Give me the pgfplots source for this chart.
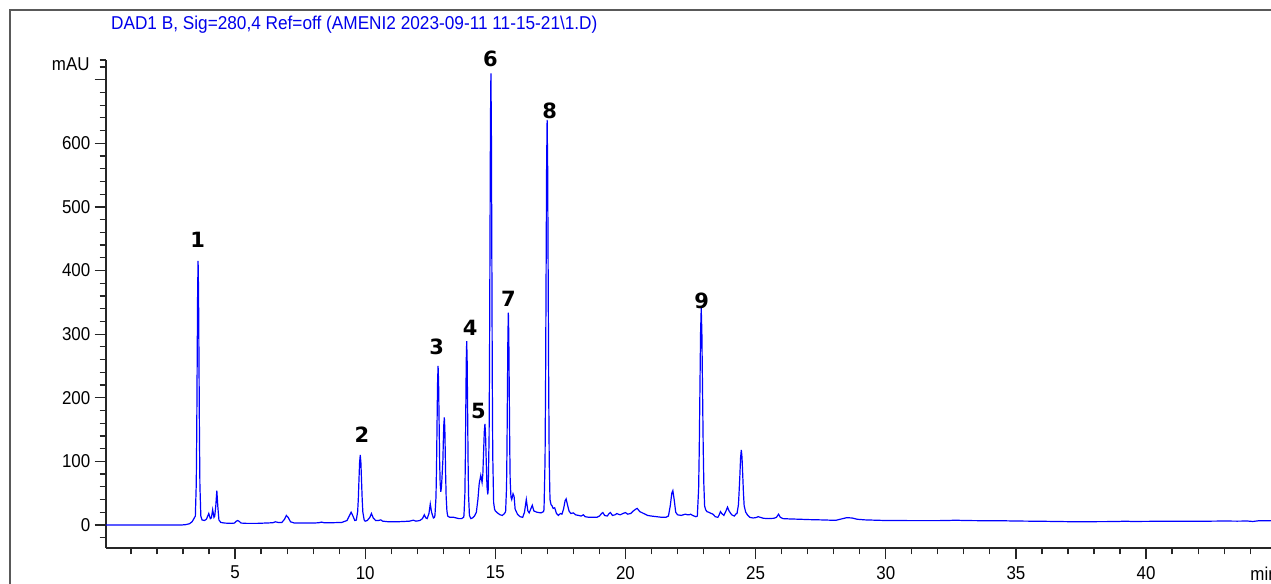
\documentclass[border=0pt]{standalone}
\usepackage{fontspec}
\usepackage{pgfplots}
\pgfplotsset{compat=1.18}
\setmainfont{Liberation Sans}
\newfontfamily\tickfont{Liberation Sans}[FakeStretch=0.91]
\newfontfamily\titlefont{Liberation Sans}[FakeStretch=0.926]
\newfontfamily\lblfont{DejaVu Sans}
\definecolor{trace}{RGB}{0,0,255}
\definecolor{ttl}{RGB}{0,0,235}
\begin{document}
\begin{tikzpicture}[x=1pt,y=1pt]
\path[use as bounding box] (0,0) rectangle (635.5,292);
\draw[line width=0.6pt, color=black!65] (5,-5) -- (5,287) -- (640,287);
\node[anchor=base west, inner sep=0pt, text=ttl, font=\titlefont\fontsize{9.3}{11}\selectfont] at (55.35,277.15) {DAD1 B, Sig=280,4 Ref=off (AMENI2 2023-09-11 11-15-21\textbackslash 1.D)};
\node[anchor=base east, inner sep=0pt, font=\tickfont\fontsize{9.3}{11}\selectfont] at (45,256.5) {mAU};
\node[anchor=base west, inner sep=0pt, font=\tickfont\fontsize{9.3}{11}\selectfont] at (625,1.8) {min};
\begin{axis}[
  at={(53pt,18pt)}, anchor=south west,
  scale only axis, width=582.5pt, height=244pt,
  xmin=0.042, xmax=44.8, ymin=-36.2, ymax=731,
  axis lines=left, axis line style={-, line width=0.6pt, black!85},
  tick align=outside, major tick length=5.7pt, minor tick length=3.2pt,
  tick style={line width=0.6pt, black!85},
  xtick={5,10,...,40}, minor xtick={1,2,...,44},
  ytick={0,100,...,600}, minor ytick={-20,0,...,720,731},
  extra y ticks={700}, extra y tick labels={},
  scaled ticks=false,
  /pgf/number format/assume math mode=true,
  ticklabel style={font=\tickfont\fontsize{9.3}{11}\selectfont, inner sep=0pt},
  xticklabel shift=3.15pt, yticklabel shift=1.95pt,
  clip=false,
]
\addplot[color=trace, line width=0.6pt, mark=none] coordinates {
(0.042,0) (2.95,0) (3.1,0.5) (3.25,2) (3.35,5) (3.42,10) (3.46,13)
(3.475,14) (3.51,65) (3.5275,142) (3.545,256) (3.5625,367) (3.58,415) (3.5975,367) (3.615,255) (3.6325,140) (3.65,62) (3.685,14)
(3.73,8) (3.82,7) (3.9,9) (3.99,18) (4.05,10) (4.09,11) (4.14,24) (4.19,12) (4.22,14) (4.26,30) (4.3,54) (4.34,28) (4.38,8) (4.45,4) (4.6,3) (4.85,2.5) (4.98,3) (5.05,6) (5.1,7) (5.15,6) (5.23,3) (5.45,2.5) (5.85,2.5) (6.15,3) (6.45,3.5) (6.55,5) (6.65,4) (6.8,4) (6.9,9) (6.97,15) (7.04,12) (7.13,5) (7.28,3) (7.6,3) (8.0,3) (8.22,3.5) (8.32,4.5) (8.42,3.5) (8.7,3.5) (9.1,4) (9.3,7) (9.4,15) (9.46,20) (9.53,14) (9.6,7) (9.65,7.5)
(9.66,8) (9.71,21) (9.735,40) (9.76,70) (9.785,98) (9.81,110) (9.835,98) (9.86,69) (9.885,40) (9.91,20) (9.96,8)
(10.0,6) (10.08,7) (10.18,12) (10.24,18) (10.31,11) (10.4,7) (10.5,7) (10.6,8) (10.67,6) (10.9,5) (11.2,5) (11.5,5.5) (11.7,6) (11.85,7.5) (11.95,6) (12.1,7) (12.2,10) (12.27,16) (12.33,11) (12.38,10) (12.45,18) (12.5,33) (12.55,20) (12.62,11) (12.66,12)
(12.68,15) (12.72,44) (12.74,90) (12.76,157) (12.78,222) (12.80,250) (12.82,224) (12.84,162) (12.86,100) (12.88,66) (12.905,52) (12.93,60) (12.95,74) (12.985,102) (13.005,137) (13.02,157) (13.04,169) (13.06,151) (13.075,116) (13.09,80) (13.11,45) (13.14,22) (13.17,14)
(13.25,12) (13.4,12) (13.5,11) (13.6,10) (13.7,10) (13.78,12)
(13.795,15) (13.83,49) (13.8475,102) (13.865,181) (13.8825,257) (13.9,289) (13.9175,257) (13.935,180) (13.9525,101) (13.97,48) (14.005,15) (14.06,10) (14.12,11) (14.2,14) (14.27,20) (14.33,40) (14.38,65) (14.44,78) (14.49,67)
(14.52,80) (14.55,116) (14.575,146) (14.6,159) (14.625,141) (14.65,100) (14.68,60) (14.71,48)
(14.725,55) (14.76,138) (14.7775,264) (14.795,450) (14.8125,632) (14.83,710) (14.8475,624) (14.865,428) (14.8825,232) (14.9,110) (14.935,35) (14.97,25) (15.0,22) (15.08,19) (15.18,16) (15.27,15) (15.35,18)
(15.395,21) (15.43,59) (15.4475,120) (15.465,210) (15.4825,297) (15.5,334) (15.5175,297) (15.535,211) (15.5525,126) (15.57,70) (15.6,44) (15.63,40) (15.68,49) (15.72,45) (15.76,25) (15.85,17) (15.95,13) (16.05,12) (16.12,20) (16.19,40) (16.25,22) (16.3,19) (16.36,25) (16.42,31) (16.48,22) (16.6,20) (16.75,19) (16.85,21)
(16.87,24) (16.91,102) (16.93,220) (16.95,394) (16.97,565) (16.99,637) (17.01,563) (17.03,392) (17.05,216) (17.07,100) (17.1,40) (17.14,32) (17.18,30) (17.22,26) (17.28,27) (17.35,18) (17.42,15) (17.5,18) (17.56,17) (17.62,25) (17.68,38) (17.72,41) (17.77,32) (17.83,22) (17.9,18) (18.0,19) (18.08,16) (18.2,15) (18.3,14) (18.38,16) (18.45,13) (18.6,12) (18.76,12) (18.9,12) (19.0,14) (19.08,18) (19.13,19.5) (19.2,15) (19.3,14) (19.37,18) (19.42,19.5) (19.5,15) (19.6,16) (19.67,18) (19.72,17) (19.8,16) (19.9,18) (20.0,19.5) (20.08,17) (20.2,18) (20.3,22) (20.4,25) (20.45,26) (20.55,21) (20.7,18) (20.85,15) (21.0,14) (21.2,13) (21.4,12) (21.55,12) (21.65,14) (21.72,30) (21.78,50) (21.82,54) (21.87,40) (21.93,20) (22.0,16) (22.14,15) (22.22,16) (22.3,17) (22.38,16) (22.45,16) (22.5,17) (22.58,15) (22.7,13)
(22.76,14) (22.81,57) (22.835,120) (22.86,212) (22.885,302) (22.91,341) (22.935,302) (22.96,214) (22.985,126) (23.01,65) (23.04,30) (23.08,24) (23.13,21) (23.2,20) (23.3,18) (23.36,17) (23.45,13) (23.55,12) (23.6,16) (23.65,21) (23.7,18) (23.78,15) (23.86,22) (23.92,28) (23.98,22) (24.08,16) (24.18,14) (24.26,18)
(24.285,18) (24.34,32) (24.3675,54) (24.395,78) (24.4225,106) (24.45,118) (24.4775,106) (24.505,78) (24.5325,50) (24.56,30) (24.62,20) (24.7,15) (24.78,12) (24.9,11) (25.0,11.5) (25.1,13) (25.18,12) (25.3,10.5) (25.5,10) (25.7,10.5) (25.8,12) (25.88,17) (25.95,12) (26.05,10) (26.3,9.5) (26.7,9) (27.0,8.5) (27.5,8) (27.9,7.5) (28.1,7.5) (28.3,9.5) (28.5,11.5) (28.7,11) (28.9,9) (29.2,8) (29.6,7.5) (30.0,7) (30.5,7) (31.0,6.8) (31.5,6.8) (32.0,6.8) (32.5,7.2) (32.7,7.5) (33.0,7) (33.5,6.8) (34.0,6.5) (34.5,6.6) (35.0,6.2) (35.5,6) (36.0,5.8) (36.5,5.5) (37.0,5.2) (37.5,5.2) (38.0,5.2) (38.5,5.3) (39.0,5.6) (39.2,6) (39.4,5.6) (39.8,5.6) (40.5,5.8) (41.0,5.8) (41.5,5.8) (42.0,6) (42.5,6) (43.0,6.2) (43.5,6) (43.9,6.2) (44.1,5.5) (44.3,6.5) (44.8,6.8)
};
\addplot[draw=none, mark=none, nodes near coords=\pgfplotspointmeta, point meta=explicit symbolic,
  every node near coord/.append style={anchor=center, inner sep=0pt, text=black, font=\lblfont\bfseries\fontsize{10.5}{12}\selectfont}]
  coordinates {(3.56,448.8)[1] (9.87,141.2)[2] (12.75,279.8)[3] (14.03,309.7)[4] (14.35,178.9)[5] (14.81,732)[6] (15.5,355)[7] (17.09,651)[8] (22.93,352)[9]};
\end{axis}
\end{tikzpicture}
\end{document}
